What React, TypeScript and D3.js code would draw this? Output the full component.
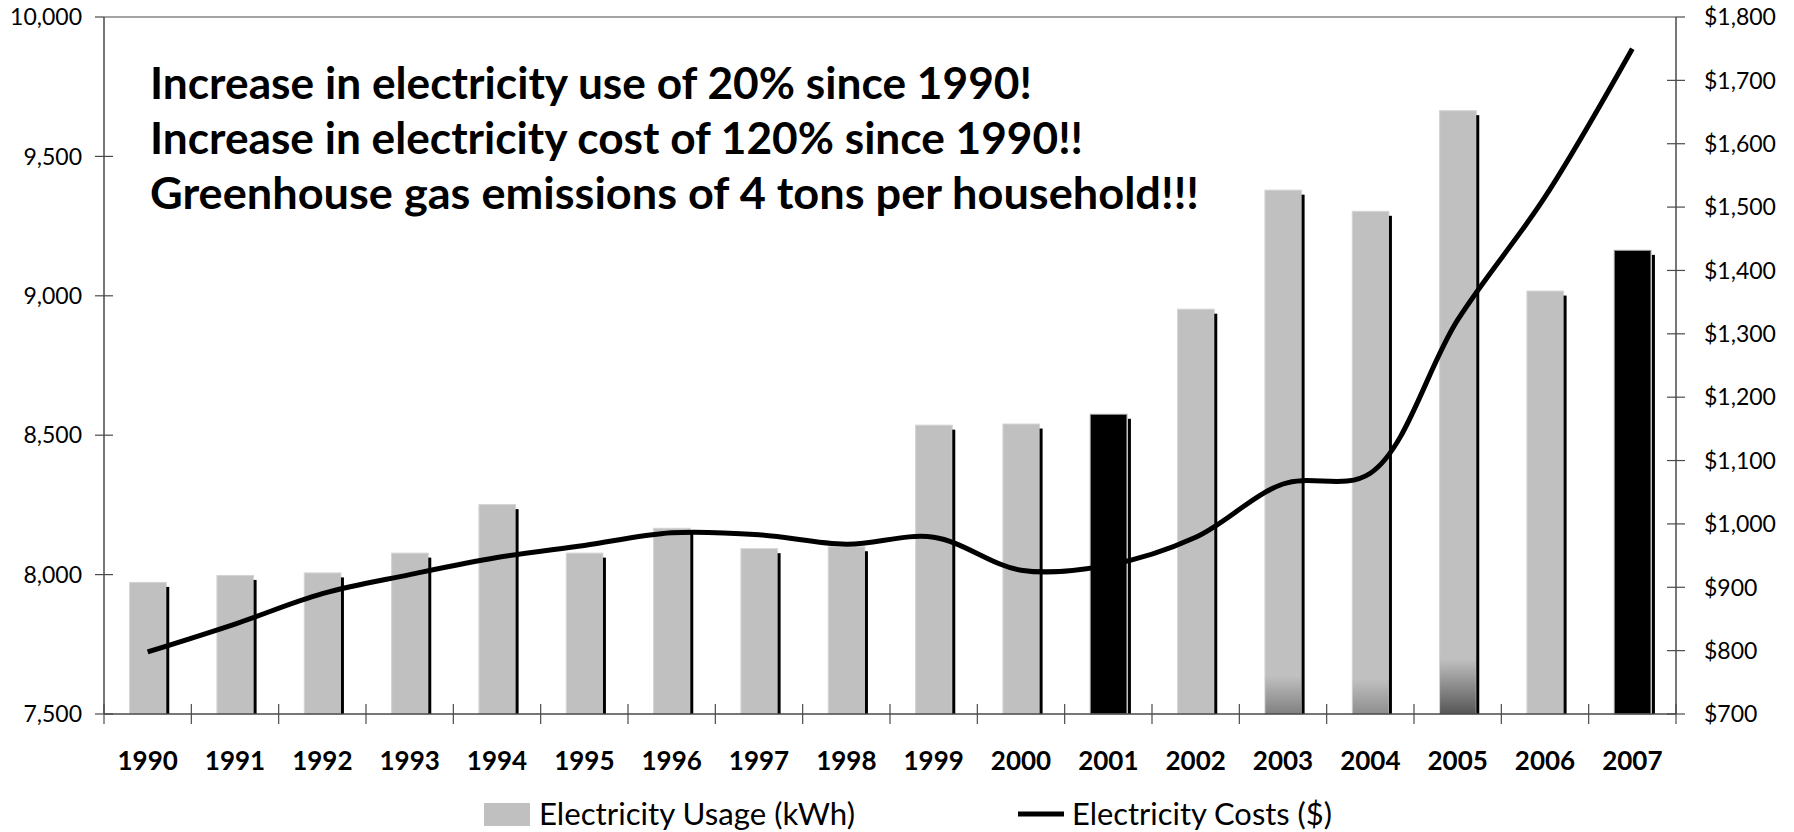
import React from "react";
import * as d3 from "d3";

const years = ["1990", "1991", "1992", "1993", "1994", "1995", "1996", "1997", "1998", "1999", "2000", "2001", "2002", "2003", "2004", "2005", "2006", "2007"];
// kWh per household
const usage = [7972, 7997, 8006, 8077, 8251, 8077, 8166, 8093, 8100, 8536, 8540, 8575, 8952, 9379, 9303, 9664, 9017, 9163];
// yearly cost in dollars
const costs = [798, 842, 890, 920, 947, 966, 986, 983, 968, 979, 927, 935, 979, 1063, 1080, 1322, 1516, 1750];
const usageTicks = [7500, 8000, 8500, 9000, 9500, 10000];
const costTicks = [700, 800, 900, 1000, 1100, 1200, 1300, 1400, 1500, 1600, 1700, 1800];
const highlighted = ["2001", "2007"];
const headlines = [
  "Increase in electricity use of 20% since 1990!",
  "Increase in electricity cost of 120% since 1990!!",
  "Greenhouse gas emissions of 4 tons per household!!!",
];
const seriesNames = ["Electricity Usage (kWh)", "Electricity Costs ($)"];

// odd dark shading at the foot of a few bars in the original
const footShade: Record<string, { h: number; color: string }> = {
  "2003": { h: 38, color: "#808080" },
  "2004": { h: 35, color: "#8e8e8e" },
  "2005": { h: 55, color: "#565656" },
};

const W = 1794;
const H = 832;
const m = { left: 104, right: 1676, top: 17, bottom: 714 };
const FONT = "Lato, 'Open Sans', sans-serif";
const AXIS = "#4a4a4a";

export default function App() {
  const x = d3.scaleBand().domain(years).range([m.left, m.right]).padding(0);
  const bw = x.bandwidth();
  const yL = d3.scaleLinear().domain([7500, 10000]).range([m.bottom, m.top]);
  const yR = d3.scaleLinear().domain([700, 1800]).range([m.bottom, m.top]);

  const barW = bw * 0.42;
  const barX = (yr: string) => (x(yr) as number) + bw * 0.293;

  const line = d3
    .line<number>()
    .x((_, i) => (x(years[i]) as number) + bw / 2)
    .y((d) => yR(d))
    .curve(d3.curveCatmullRom.alpha(0.5));

  const fmt = d3.format(",");
  const boundaries = years.map((yr) => x(yr) as number).concat([m.right]);

  return (
    <svg width={W} height={H} style={{ position: "absolute", left: 0, top: 0, background: "#fff" }}>
      <defs>
        {Object.entries(footShade).map(([yr, s]) => (
          <linearGradient key={yr} id={"shade" + yr} x1="0" y1="0" x2="0" y2="1">
            <stop offset="0" stopColor="#c0c0c0" />
            <stop offset="1" stopColor={s.color} />
          </linearGradient>
        ))}
      </defs>

      {/* bars */}
      {years.map((yr, i) => {
        const top = yL(usage[i]);
        const bx = barX(yr);
        const dark = highlighted.includes(yr);
        const sh = footShade[yr];
        return (
          <g key={yr}>
            <rect
              x={bx}
              y={top}
              width={barW}
              height={m.bottom - top}
              fill={dark ? "#000" : "#c0c0c0"}
              stroke={dark ? "#9a9a9a" : "#d4d4d4"}
              strokeWidth={1}
            />
            {sh && (
              <rect x={bx + 0.5} y={m.bottom - sh.h} width={barW - 1} height={sh.h} fill={`url(#shade${yr})`} />
            )}
            <rect x={bx + barW + (dark ? 1 : 0)} y={top + 4.5} width={3} height={m.bottom - top - 4.5} fill="#000" />
          </g>
        );
      })}

      {/* frame and axes */}
      <line x1={m.left} x2={m.right} y1={m.top} y2={m.top} stroke={AXIS} strokeWidth={1.2} />
      <line x1={m.left} x2={m.left} y1={m.top} y2={m.bottom} stroke={AXIS} strokeWidth={1.5} />
      <line x1={m.right} x2={m.right} y1={m.top} y2={m.bottom} stroke={AXIS} strokeWidth={1.5} />
      <line x1={m.left} x2={m.right} y1={m.bottom} y2={m.bottom} stroke={AXIS} strokeWidth={1.5} />

      {usageTicks.map((t) => (
        <g key={t}>
          <line x1={m.left - 9} x2={t === 10000 ? m.left : m.left + 9} y1={yL(t)} y2={yL(t)} stroke={AXIS} strokeWidth={1.2} />
          <text x={82} y={yL(t)} dy="0.36em" textAnchor="end" fontFamily={FONT} fontSize={23} fill="#000">
            {fmt(t)}
          </text>
        </g>
      ))}

      {costTicks.map((t) => (
        <g key={t}>
          <line x1={t === 1800 ? m.right : m.right - 9} x2={m.right + 9} y1={yR(t)} y2={yR(t)} stroke={AXIS} strokeWidth={1.2} />
          <text x={1704} y={yR(t)} dy="0.36em" fontFamily={FONT} fontSize={23} fill="#000">
            {"$" + fmt(t)}
          </text>
        </g>
      ))}

      {boundaries.map((bx, i) => (
        <line key={i} x1={bx} x2={bx} y1={m.bottom - 10} y2={m.bottom + 10} stroke={AXIS} strokeWidth={1.2} />
      ))}

      {years.map((yr) => (
        <text
          key={yr}
          x={(x(yr) as number) + bw / 2}
          y={770}
          textAnchor="middle"
          fontFamily={FONT}
          fontWeight="bold"
          fontSize={26}
          fill="#000"
        >
          {yr}
        </text>
      ))}

      {/* cost line */}
      <path d={line(costs) ?? ""} fill="none" stroke="#000" strokeWidth={5} />

      {/* headline text */}
      {headlines.map((t, i) => (
        <text
          key={i}
          x={150}
          y={99 + i * 55}
          fontFamily={FONT}
          fontWeight="bold"
          fontSize={43}
          fill="#000"
          textLength={[882, 933, 1049][i]}
          lengthAdjust="spacingAndGlyphs"
        >
          {t}
        </text>
      ))}

      {/* legend */}
      <rect x={484} y={803} width={46} height={23} fill="#c0c0c0" />
      <text x={539} y={825} fontFamily={FONT} fontSize={30} fill="#000" textLength={316} lengthAdjust="spacingAndGlyphs">
        {seriesNames[0]}
      </text>
      <line x1={1018} x2={1064} y1={814} y2={814} stroke="#000" strokeWidth={5} />
      <text x={1072} y={825} fontFamily={FONT} fontSize={30} fill="#000" textLength={260} lengthAdjust="spacingAndGlyphs">
        {seriesNames[1]}
      </text>
    </svg>
  );
}
